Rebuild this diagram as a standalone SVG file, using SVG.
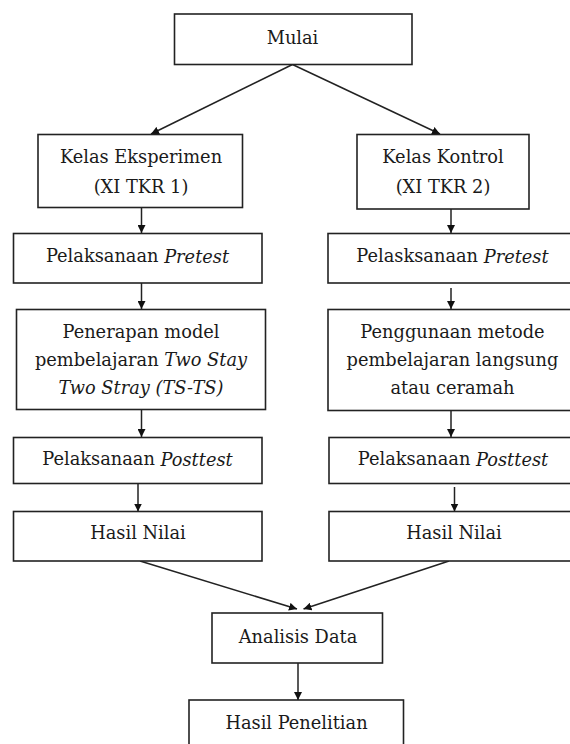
<svg xmlns="http://www.w3.org/2000/svg" width="570" height="744" viewBox="0 0 570 744">
<defs>
<marker id="ah" viewBox="0 0 10 10" refX="10" refY="5" markerWidth="8" markerHeight="8" markerUnits="userSpaceOnUse" orient="auto">
<path d="M0,0 L10,5 L0,10 z" fill="#111"/>
</marker>
<style>
.box{fill:#fff;stroke:#222;stroke-width:1.6}
.t{font-family:"DejaVu Serif","Liberation Serif",serif;font-size:17.8px;fill:#1a1a1a;text-anchor:middle;dominant-baseline:central}
.i{font-style:italic}
.c{stroke:#222;stroke-width:1.5;fill:none;marker-end:url(#ah)}
</style>
</defs>
<rect width="570" height="744" fill="#fff"/>
<g id="connectors">
<line class="c" x1="292.5" y1="64.5" x2="151" y2="134"/>
<line class="c" x1="292.5" y1="64.5" x2="440" y2="134"/>
<line class="c" x1="141.5" y1="207.5" x2="141.5" y2="233"/>
<line class="c" x1="451" y1="209" x2="451" y2="233"/>
<line class="c" x1="141.5" y1="283" x2="141.5" y2="309"/>
<line class="c" x1="451" y1="288" x2="451" y2="309"/>
<line class="c" x1="141.5" y1="409.5" x2="141.5" y2="437"/>
<line class="c" x1="451" y1="408" x2="451" y2="437"/>
<line class="c" x1="138" y1="483.5" x2="138" y2="511.5"/>
<line class="c" x1="454.5" y1="487" x2="454.5" y2="511.5"/>
<line class="c" x1="140" y1="561" x2="297" y2="609"/>
<line class="c" x1="449" y1="561" x2="303.5" y2="609"/>
<line class="c" x1="298" y1="663" x2="298" y2="700"/>
</g>
<g id="mulai"><rect class="box" x="174.5" y="14" width="237.5" height="50.5"/><text class="t" x="292.5" y="37.5">Mulai</text></g>
<g id="kelas-eksperimen"><rect class="box" x="38" y="134.5" width="204.5" height="73"/><text class="t" x="141" y="156.5">Kelas Eksperimen</text><text class="t" x="141" y="186.5">(XI TKR 1)</text></g>
<g id="kelas-kontrol"><rect class="box" x="357" y="134.5" width="172" height="74.5"/><text class="t" x="443" y="156.5">Kelas Kontrol</text><text class="t" x="443" y="186.5">(XI TKR 2)</text></g>
<g id="pretest-eksperimen"><rect class="box" x="13.5" y="233.5" width="248.5" height="49.5"/><text class="t" x="137.5" y="255.5">Pelaksanaan <tspan class="i">Pretest</tspan></text></g>
<g id="pretest-kontrol"><rect class="box" x="328" y="233.5" width="250" height="49.5"/><text class="t" x="452.5" y="255.5">Pelasksanaan <tspan class="i">Pretest</tspan></text></g>
<g id="penerapan"><rect class="box" x="16.5" y="309.5" width="249" height="100"/><text class="t" x="141" y="331">Penerapan model</text><text class="t" x="141" y="359">pembelajaran <tspan class="i">Two Stay</tspan></text><text class="t" x="141" y="387"><tspan class="i">Two Stray (TS-TS)</tspan></text></g>
<g id="penggunaan"><rect class="box" x="328" y="309.5" width="250" height="101"/><text class="t" x="452.5" y="331">Penggunaan metode</text><text class="t" x="452.5" y="359">pembelajaran langsung</text><text class="t" x="452.5" y="387">atau ceramah</text></g>
<g id="posttest-eksperimen"><rect class="box" x="13.5" y="437.5" width="248.5" height="46"/><text class="t" x="137.5" y="458.5">Pelaksanaan <tspan class="i">Posttest</tspan></text></g>
<g id="posttest-kontrol"><rect class="box" x="329" y="437.5" width="249" height="46"/><text class="t" x="453" y="458.5">Pelaksanaan <tspan class="i">Posttest</tspan></text></g>
<g id="hasil-nilai-eksperimen"><rect class="box" x="13.5" y="511.5" width="248.5" height="49.5"/><text class="t" x="138" y="532">Hasil Nilai</text></g>
<g id="hasil-nilai-kontrol"><rect class="box" x="329" y="511.5" width="249" height="49.5"/><text class="t" x="454" y="532">Hasil Nilai</text></g>
<g id="analisis-data"><rect class="box" x="212" y="613" width="170.5" height="50"/><text class="t" x="298" y="636">Analisis Data</text></g>
<g id="hasil-penelitian"><rect class="box" x="189" y="700" width="214.5" height="60"/><text class="t" x="296.5" y="722">Hasil Penelitian</text></g>
</svg>
